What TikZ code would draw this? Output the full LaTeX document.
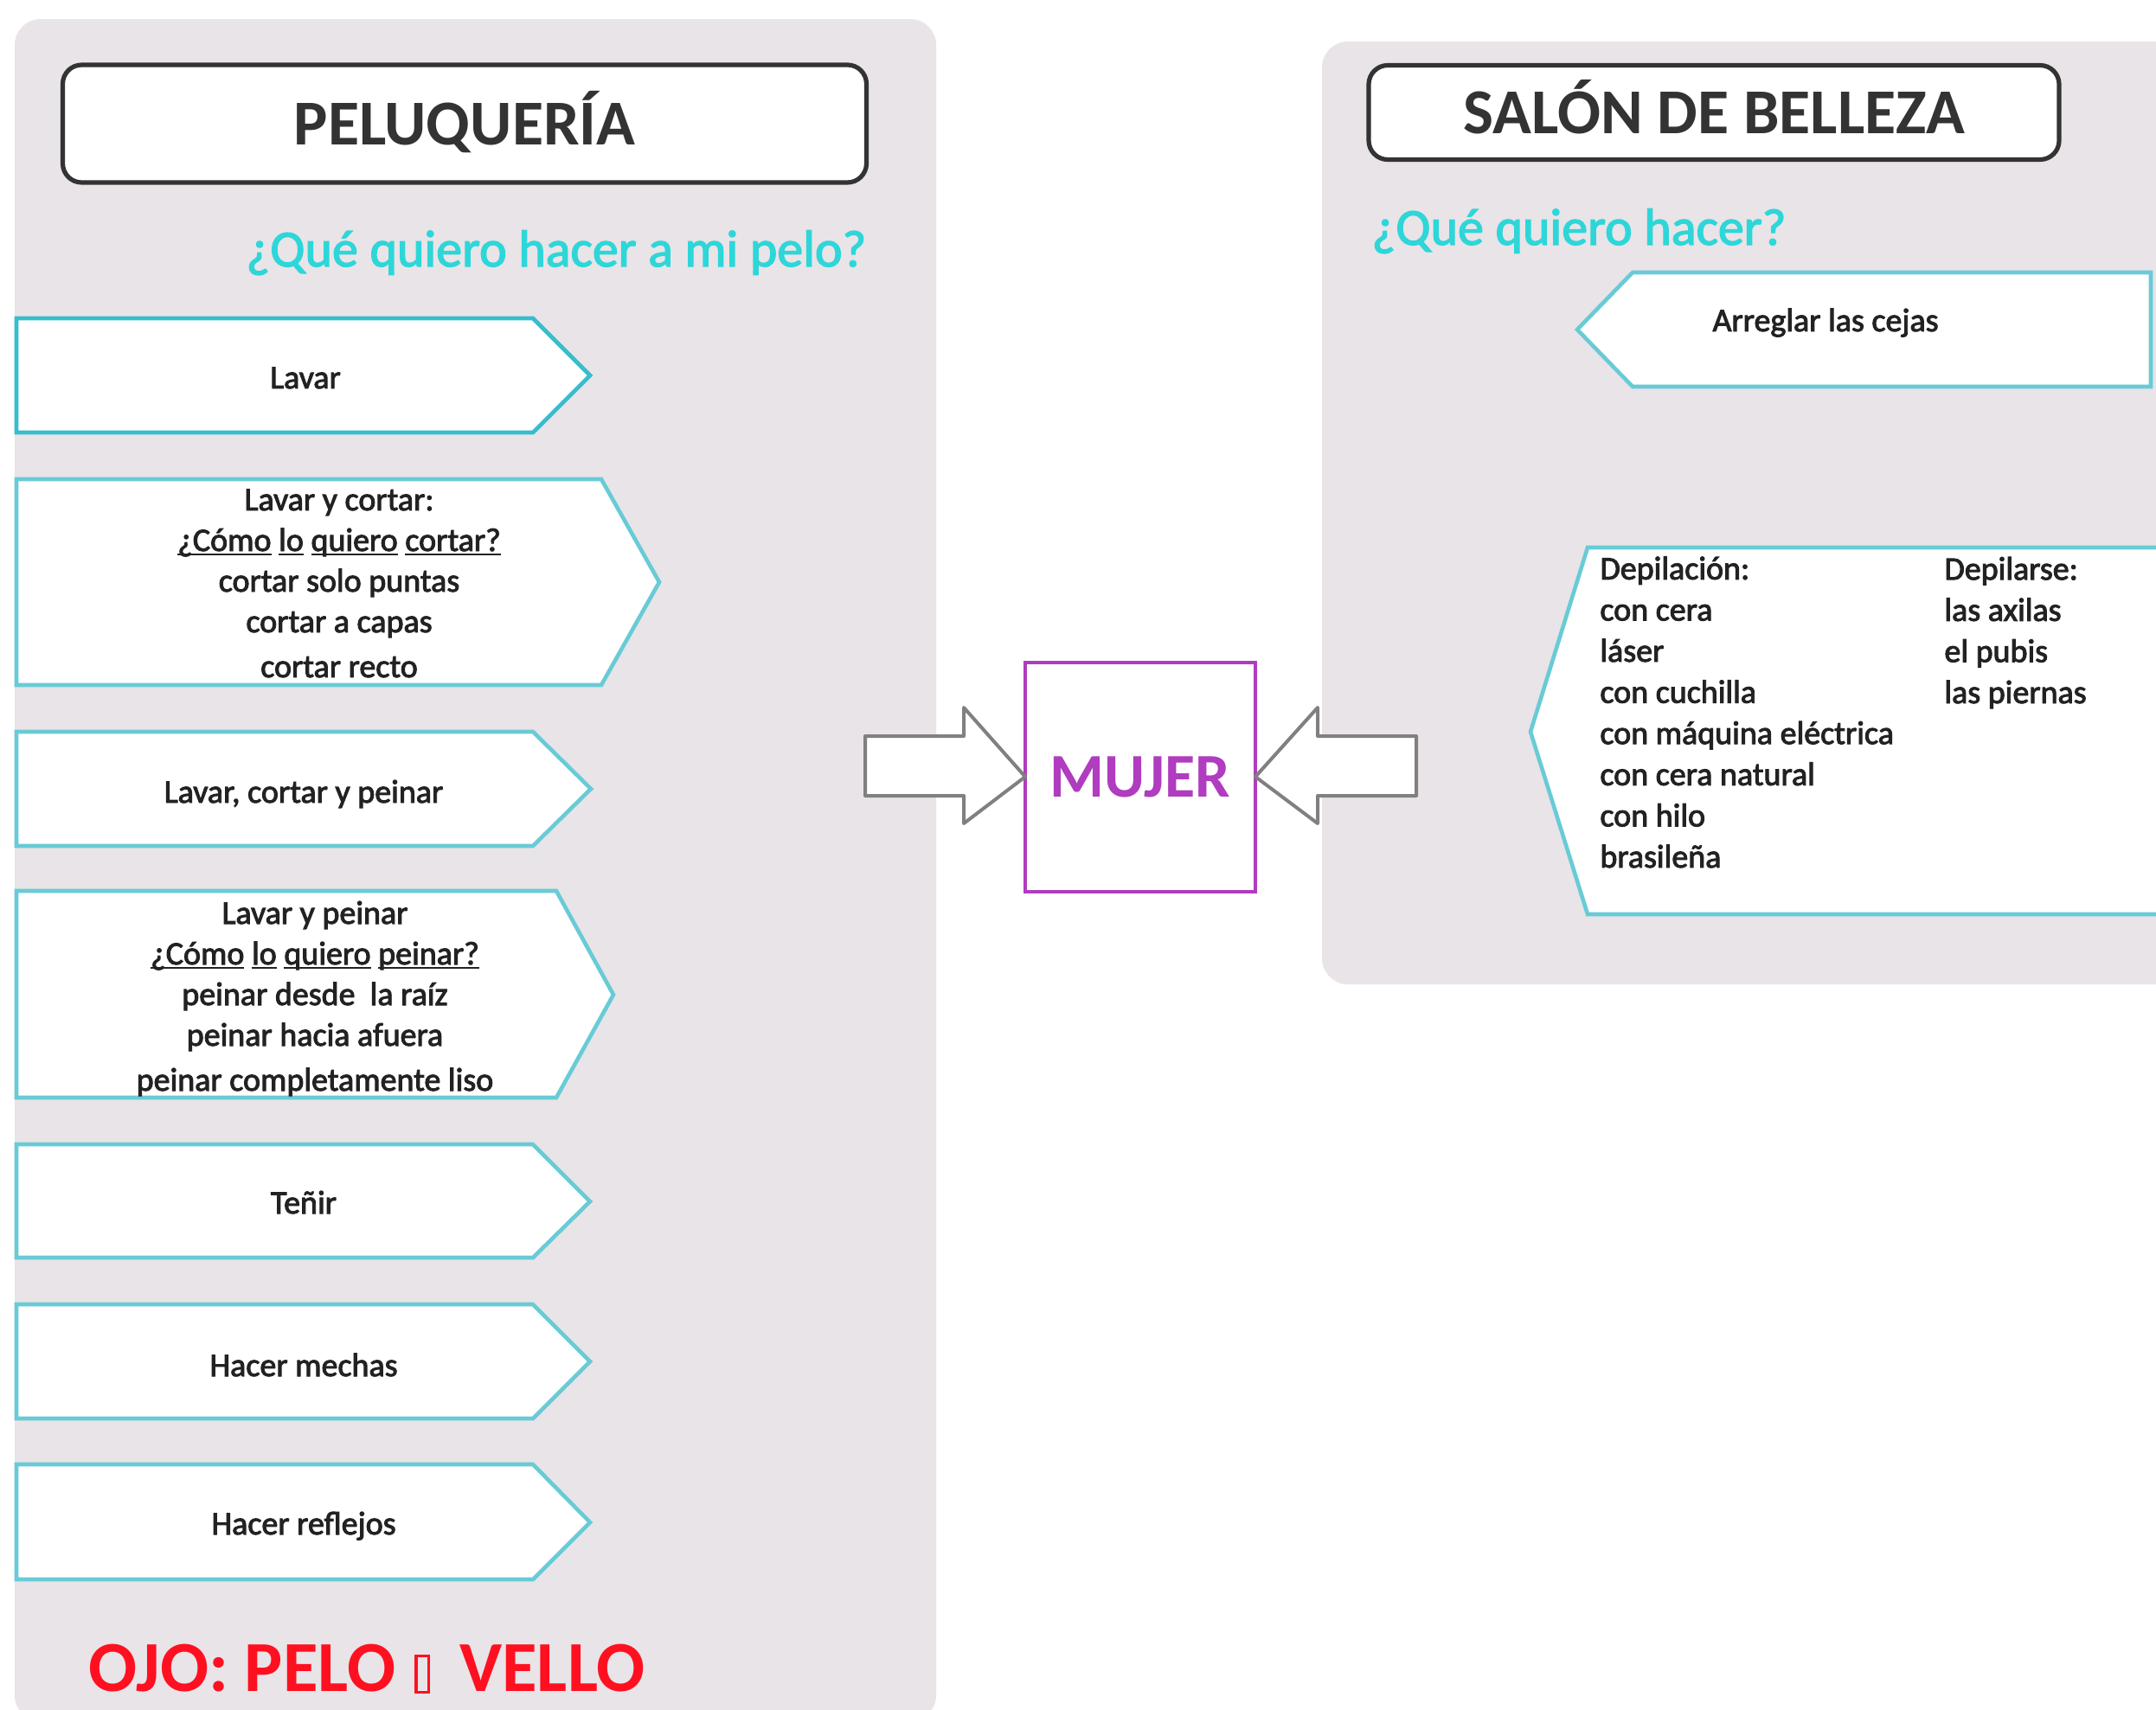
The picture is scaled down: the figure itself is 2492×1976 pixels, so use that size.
\documentclass[tikz,border=0pt]{standalone}
\usepackage{fontspec}
\setmainfont{Carlito}
\newfontfamily\semib{Carlito}[FakeBold=2.5]
\newfontfamily\semih{Carlito}[FakeBold=2.2]
\definecolor{panel}{HTML}{E8E4E8}
\definecolor{cyanA}{HTML}{36BDCE}
\definecolor{cyanB}{HTML}{68CBD6}
\definecolor{headc}{HTML}{2ED6D8}
\definecolor{purp}{HTML}{B03CC0}
\definecolor{ojoc}{HTML}{FF1020}
\definecolor{titc}{HTML}{333333}
\definecolor{txt}{HTML}{222222}
\definecolor{arrg}{HTML}{808080}
\newcommand\myul[1]{\setbox0=\hbox{#1}\rlap{\rule[-2.6pt]{\wd0}{0.9pt}}\box0\relax}
\newcommand\tofubox{{\fboxsep=0pt\fboxrule=1.6pt\fbox{\rule{5.8pt}{0pt}\rule{0pt}{19.5pt}}}}
\begin{document}
\begin{tikzpicture}[x=0.5pt,y=-0.5pt,
  chev/.style={draw=cyanB, line width=2.3pt, fill=white, line join=miter},
  chevA/.style={chev, draw=cyanA},
  boxtext/.style={font=\semib\fontsize{19pt}{23.5pt}\selectfont, text=txt, inner sep=0pt, align=center},
  coltext/.style={font=\semib\fontsize{19pt}{23.8pt}\selectfont, text=txt, inner sep=0pt, align=left},
  heading/.style={font=\semih\fontsize{30pt}{36pt}\selectfont, text=headc, inner sep=0pt},
  titlebox/.style={draw=titc, line width=2.6pt, fill=white, rounded corners=11pt,
     font=\bfseries\fontsize{37pt}{42pt}\selectfont, text=titc,
     text height=24pt, text depth=0pt, inner sep=0pt, outer sep=0pt},
  barrow/.style={draw=arrg, line width=2pt, fill=white, line join=round},
  mujerbox/.style={draw=purp, line width=2pt, fill=white, minimum width=133pt, minimum height=132.5pt,
     inner sep=0pt, outer sep=0pt, font=\bfseries\fontsize{36pt}{40pt}\selectfont, text=purp}
]
\useasboundingbox (0,0) rectangle (2492,1976);
\clip (0,0) rectangle (2492,1976);
\fill[white] (0,0) rectangle (2492,1976);

% panels
\fill[panel, rounded corners=15pt] (17,22) rectangle (1082,1990);
\fill[panel, rounded corners=15pt] (1528,48) rectangle (2560,1138);

% titles
\node[titlebox, minimum width=464.5pt, minimum height=68pt] (pel) at (537,143) {PELUQUERÍA};
\node[titlebox, minimum width=399pt, minimum height=54.5pt] (sal) at (1981,130) {SALÓN DE BELLEZA};

% headings
\node[heading, anchor=base west] (q1) at (284,308) {¿Qué quiero hacer a mi pelo?};
\node[heading, anchor=base west] (q2) at (1585,283) {¿Qué quiero hacer?};

% left chevrons
\draw[chevA] (19,368) -- (616,368) -- (682,434) -- (616,500) -- (19,500) -- cycle;
\node[boxtext, anchor=base] (t1) at (353,449) {Lavar};

\draw[chev] (19,554) -- (695,554) -- (762,673) -- (695,792) -- (19,792) -- cycle;
\node[boxtext, anchor=base] (t2) at (392,783) {Lavar y cortar:\\ \myul{¿Cómo} \myul{lo} \myul{quiero} \myul{cortar?}\\ cortar solo puntas\\ cortar a capas\\[2.5pt] cortar recto};

\draw[chev] (19,846) -- (616,846) -- (683,912) -- (616,978) -- (19,978) -- cycle;
\node[boxtext, anchor=base] (t3) at (351,928) {Lavar, cortar y peinar};

\draw[chev] (19,1030) -- (643,1030) -- (709,1150) -- (643,1269) -- (19,1269) -- cycle;
\node[boxtext, anchor=base] (t4) at (364,1261) {Lavar y peinar\\ \myul{¿Cómo} \myul{lo} \myul{quiero} \myul{peinar?}\\ peinar desde~~la raíz\\ peinar hacia afuera\\[2.5pt] peinar completamente liso};

\draw[chev] (19,1323) -- (616,1323) -- (682,1389) -- (616,1454) -- (19,1454) -- cycle;
\node[boxtext, anchor=base] (t5) at (351,1403) {Teñir};

\draw[chev] (19,1508) -- (616,1508) -- (682,1574) -- (616,1640) -- (19,1640) -- cycle;
\node[boxtext, anchor=base] (t6) at (351,1591) {Hacer mechas};

\draw[chev] (19,1693) -- (616,1693) -- (682,1760) -- (616,1826) -- (19,1826) -- cycle;
\node[boxtext, anchor=base] (t7) at (351,1774) {Hacer reflejos};

% OJO
\node[anchor=base west, inner sep=0pt, text=ojoc, font=\bfseries\fontsize{41.5pt}{46pt}\selectfont] (ojo) at (102,1955) {OJO: PELO\hspace{11pt}\tofubox\hspace{17pt}VELLO};

% right chevrons
\draw[chev] (2486,315) -- (1887,315) -- (1823,381) -- (1887,447) -- (2486,447) -- cycle;
\node[boxtext, anchor=base] (a1) at (2110,383) {Arreglar las cejas};

\draw[chev] (2560,633) -- (1835,633) -- (1769,846) -- (1835,1057) -- (2560,1057);
\node[coltext, anchor=base west] (d1) at (1849,1003) {Depilación:\\ con cera\\ láser\\ con cuchilla\\ con máquina eléctrica\\ con cera natural\\ con hilo\\ brasileña};
\node[coltext, anchor=base west] (d2) at (2247,813) {Depilarse:\\ las axilas\\ el pubis\\ las piernas};

% center
\node[mujerbox] (mujer) at (1318,898) {MUJER};
\draw[barrow] (1000,851) -- (1114,851) -- (1114,818) -- (mujer.west) -- (1114,952) -- (1114,920) -- (1000,920) -- cycle;
\draw[barrow] (1637,851) -- (1523,851) -- (1523,818) -- (mujer.east) -- (1523,952) -- (1523,920) -- (1637,920) -- cycle;
\end{tikzpicture}
\end{document}
